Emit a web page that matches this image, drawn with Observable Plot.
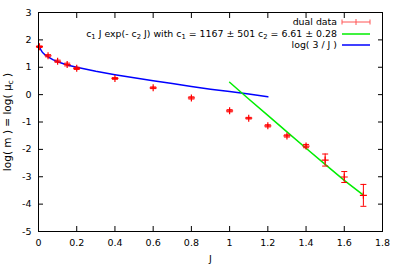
<!DOCTYPE html>
<html><head><meta charset="utf-8">
<script src="https://cdn.jsdelivr.net/npm/d3@7"></script>
<script src="https://cdn.jsdelivr.net/npm/@observablehq/plot@0.6"></script>
<style>body{margin:0;background:#fff}</style>
</head><body><div id="chart"></div>
<script>
// dual data
const dataJ   = [0.005, 0.05, 0.1, 0.15, 0.2, 0.4, 0.6, 0.8, 1.0, 1.1, 1.2, 1.3, 1.4, 1.5, 1.6, 1.7];
const dataY   = [1.75, 1.42, 1.22, 1.1, 0.96, 0.59, 0.25, -0.12, -0.59, -0.86, -1.14, -1.51, -1.88, -2.39, -3.01, -3.68];
const dataErr = [0.03, 0.04, 0.04, 0.05, 0.04, 0.03, 0.03, 0.04, 0.04, 0.03, 0.04, 0.04, 0.06, 0.22, 0.2, 0.4];
// fit curve c1 J exp(-c2 J)
const fitJ = [1.0, 1.1, 1.2, 1.3, 1.4, 1.5, 1.6, 1.7];
const fitY = [0.45, -0.16, -0.76, -1.36, -1.96, -2.55, -3.13, -3.67];
// log(3/J) curve
const logJ = [0.005, 0.01, 0.02, 0.035, 0.05, 0.075, 0.1, 0.15, 0.2, 0.3, 0.4, 0.5, 0.6, 0.7, 0.8, 0.9, 1.0, 1.1, 1.2];
const logY = [1.75, 1.66, 1.55, 1.45, 1.38, 1.28, 1.2, 1.08, 1.0, 0.85, 0.73, 0.62, 0.51, 0.41, 0.3, 0.2, 0.11, 0.02, -0.08];
const xTicks = [0, 0.2, 0.4, 0.6, 0.8, 1, 1.2, 1.4, 1.6, 1.8];
const yTicks = [-5, -4, -3, -2, -1, 0, 1, 2, 3];

const pts = dataJ.map((J, i) => ({J, y: dataY[i], lo: dataY[i] - dataErr[i], hi: dataY[i] + dataErr[i]}));
const fit = fitJ.map((J, i) => ({J, y: fitY[i]}));
const lg = logJ.map((J, i) => ({J, y: logY[i]}));

const cap = {draw(ctx, size) { const r = Math.sqrt(size / Math.PI); ctx.moveTo(-r, 0); ctx.lineTo(r, 0); }};
const cross = {draw(ctx, size) { const r = Math.sqrt(size / Math.PI); ctx.moveTo(-r, 0); ctx.lineTo(r, 0); ctx.moveTo(0, -r); ctx.lineTo(0, r); }};
const FONT = "DejaVu Sans";

const plot = Plot.plot({
  width: 399, height: 266,
  marginLeft: 38, marginRight: 17, marginTop: 12, marginBottom: 35,
  style: {fontFamily: FONT, fontSize: "9.5px", color: "#000", background: "#fff"},
  x: {domain: [0, 1.8]},
  y: {domain: [-5, 3]},
  marks: [
    Plot.axisX({ticks: xTicks, tickSize: 0, tickPadding: 8, tickFormat: d => String(d), label: "J", labelAnchor: "center", labelArrow: "none", labelOffset: 30, fontSize: 9.5}),
    Plot.axisX({ticks: xTicks, anchor: "bottom", tickSize: -5, text: null, label: null}),
    Plot.axisX({ticks: xTicks, anchor: "top", tickSize: -5, text: null, label: null}),
    Plot.axisY({ticks: yTicks, tickSize: 0, tickPadding: 7, tickFormat: d => String(d), label: null, fontSize: 9.5}),
    Plot.axisY({ticks: yTicks, anchor: "left", tickSize: -5, text: null, label: null}),
    Plot.axisY({ticks: yTicks, anchor: "right", tickSize: -5, text: null, label: null}),
    Plot.line(lg, {x: "J", y: "y", stroke: "#0000ff", strokeWidth: 1.5}),
    Plot.line(fit, {x: "J", y: "y", stroke: "#00ee00", strokeWidth: 1.5}),
    Plot.ruleX(pts, {x: "J", y1: "lo", y2: "hi", stroke: "#ff0000", strokeWidth: 1}),
    Plot.dot(pts, {x: "J", y: "lo", symbol: cap, r: 3, stroke: "#ff0000", strokeWidth: 1}),
    Plot.dot(pts, {x: "J", y: "hi", symbol: cap, r: 3, stroke: "#ff0000", strokeWidth: 1}),
    Plot.dot(pts, {x: "J", y: "y", symbol: cross, r: 3.5, stroke: "#ff0000", strokeWidth: 1.2}),
    Plot.frame({stroke: "#000"})
  ]
});
const svg = d3.select(plot);
// Y axis label with subscript
const yl = svg.append("text").attr("transform", "translate(11,122) rotate(-90)")
  .attr("text-anchor", "middle").attr("font-family", FONT).attr("font-size", 10.5).attr("fill", "#000");
yl.append("tspan").text("log( m ) = log( μ");
yl.append("tspan").attr("font-size", 7.5).attr("dy", 2).text("c");
yl.append("tspan").attr("dy", -2).text(" )");
// legend
const lx = 337, sx1 = 342, sx2 = 370;
const rows = [22, 34, 45];
const g = svg.append("g").attr("font-family", FONT).attr("font-size", 9.4).attr("fill", "#000").attr("text-anchor", "end");
g.append("text").attr("x", lx).attr("y", rows[0]).attr("dy", "0.35em").text("dual data");
const t2 = g.append("text").attr("x", lx).attr("y", rows[1]).attr("dy", "0.35em");
t2.append("tspan").text("c");
t2.append("tspan").attr("font-size", 6.8).attr("dy", 2).text("1");
t2.append("tspan").attr("dy", -2).text(" J exp(- c");
t2.append("tspan").attr("font-size", 6.8).attr("dy", 2).text("2");
t2.append("tspan").attr("dy", -2).text(" J) with c");
t2.append("tspan").attr("font-size", 6.8).attr("dy", 2).text("1");
t2.append("tspan").attr("dy", -2).text(" = 1167 ± 501 c");
t2.append("tspan").attr("font-size", 6.8).attr("dy", 2).text("2");
t2.append("tspan").attr("dy", -2).text(" = 6.61 ± 0.28");
g.append("text").attr("x", lx).attr("y", rows[2]).attr("dy", "0.35em").text("log( 3 / J )");
const ls = svg.append("g").attr("fill", "none");
ls.append("path").attr("d", `M${sx1},${rows[0]}H${sx2}M${sx1},${rows[0]-2.5}V${rows[0]+2.5}M${sx2},${rows[0]-2.5}V${rows[0]+2.5}M${(sx1+sx2)/2},${rows[0]-3}V${rows[0]+3}`).attr("stroke", "#ff5555").attr("stroke-width", 1);
ls.append("path").attr("d", `M${sx1},${rows[1]}H${sx2}`).attr("stroke", "#00ee00").attr("stroke-width", 1.5);
ls.append("path").attr("d", `M${sx1},${rows[2]}H${sx2}`).attr("stroke", "#0000ff").attr("stroke-width", 1.5);
document.getElementById("chart").appendChild(plot);
</script></body></html>
